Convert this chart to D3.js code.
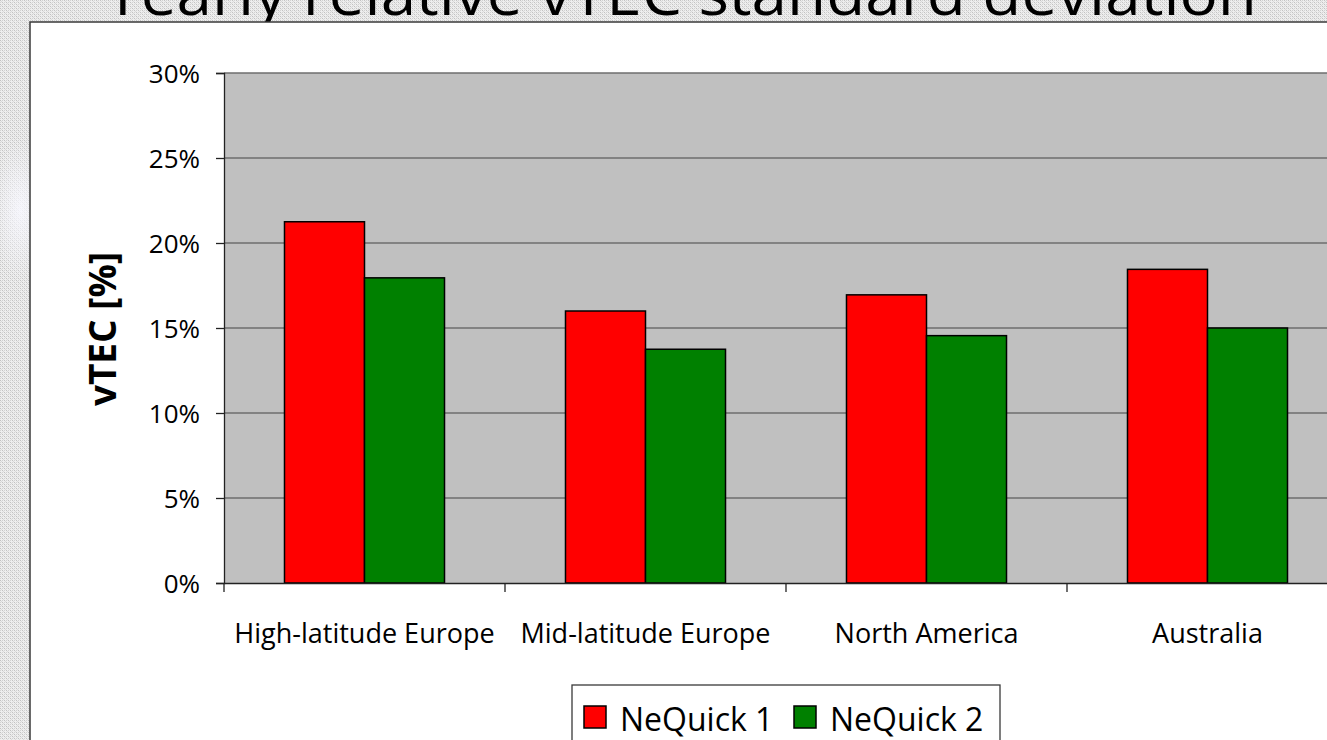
<!DOCTYPE html>
<html>
<head>
<meta charset="utf-8">
<script src="https://cdn.jsdelivr.net/npm/d3@7"></script>
<style>
html,body{margin:0;padding:0;overflow:hidden;background:#fff;}
svg{display:block;}
</style>
</head>
<body>
<svg id="chart" width="1327" height="740"></svg>
<script>
const categories = ["High-latitude Europe", "Mid-latitude Europe", "North America", "Australia"];
const seriesNames = ["NeQuick 1", "NeQuick 2"];
const nequick1 = [21.25, 16.0, 16.95, 18.45];
const nequick2 = [17.95, 13.75, 14.55, 15.0];
const seriesColors = ["#ff0000", "#008000"];
const yTicks = [0, 5, 10, 15, 20, 25, 30];
const titleText = "Yearly relative vTEC standard deviation";
const yTitle = "vTEC [%]";

const svg = d3.select("#chart");
const font = "'Open Sans', 'Noto Sans', sans-serif";

// background dither pattern
const defs = svg.append("defs");
const pat = defs.append("pattern").attr("id", "dither").attr("width", 4).attr("height", 4)
  .attr("patternUnits", "userSpaceOnUse");
pat.append("rect").attr("width", 4).attr("height", 4).attr("fill", "#eeeeee");
pat.append("rect").attr("x", 0).attr("y", 0).attr("width", 1).attr("height", 1).attr("fill", "#c2c2c2");
pat.append("rect").attr("x", 2).attr("y", 2).attr("width", 1).attr("height", 1).attr("fill", "#c2c2c2");
pat.append("rect").attr("x", 2).attr("y", 0).attr("width", 1).attr("height", 1).attr("fill", "#d2d2d2");
pat.append("rect").attr("x", 0).attr("y", 2).attr("width", 1).attr("height", 1).attr("fill", "#d2d2d2");
pat.append("rect").attr("x", 1).attr("y", 1).attr("width", 1).attr("height", 1).attr("fill", "#dadada");
pat.append("rect").attr("x", 3).attr("y", 3).attr("width", 1).attr("height", 1).attr("fill", "#dadada");
const glow = defs.append("radialGradient").attr("id", "glow");
glow.append("stop").attr("offset", "0").attr("stop-color", "#f8f8ff").attr("stop-opacity", 0.85);
glow.append("stop").attr("offset", "1").attr("stop-color", "#f8f8ff").attr("stop-opacity", 0);

svg.append("rect").attr("width", 1327).attr("height", 740).attr("fill", "url(#dither)");
svg.append("ellipse").attr("cx", 20).attr("cy", 210).attr("rx", 28).attr("ry", 70).attr("fill", "url(#glow)");

// title (cut off at top, as in the reference)
svg.append("text").attr("x", 105).attr("y", 15)
  .attr("textLength", 1152).attr("lengthAdjust", "spacingAndGlyphs")
  .style("font-family", font).style("font-size", "60px").attr("fill", "#000")
  .text(titleText);

// white chart panel
svg.append("rect").attr("x", 30).attr("y", 22).attr("width", 1340).attr("height", 760)
  .attr("fill", "#fff").attr("stroke", "#3a3a3a").attr("stroke-width", 1.5);

const plot = {left: 224, top: 73, bottom: 583, step: 281};
const x = d3.scaleBand().domain(categories)
  .range([plot.left, plot.left + plot.step * categories.length]).paddingInner(0).paddingOuter(0);
const xs = d3.scaleBand().domain(seriesNames).range([0, x.bandwidth()]).paddingInner(0).paddingOuter(0.756);
const y = d3.scaleLinear().domain([0, 30]).range([plot.bottom, plot.top]);

// plot area
svg.append("rect").attr("x", plot.left).attr("y", plot.top)
  .attr("width", x.range()[1] - plot.left).attr("height", plot.bottom - plot.top).attr("fill", "#c0c0c0");

// gridlines
svg.append("g").selectAll("line").data(yTicks.filter(d => d > 0)).join("line")
  .attr("x1", plot.left).attr("x2", x.range()[1])
  .attr("y1", d => y(d)).attr("y2", d => y(d))
  .attr("stroke", "#6e6e6e").attr("stroke-width", 1.3);

// bars
const data = categories.map((c, i) => ({cat: c, vals: [nequick1[i], nequick2[i]]}));
const groups = svg.append("g").selectAll("g").data(data).join("g")
  .attr("transform", d => `translate(${x(d.cat)},0)`);
groups.selectAll("rect").data(d => d.vals.map((v, j) => ({s: seriesNames[j], v, j}))).join("rect")
  .attr("x", d => xs(d.s)).attr("width", xs.bandwidth())
  .attr("y", d => y(d.v)).attr("height", d => y(0) - y(d.v))
  .attr("fill", d => seriesColors[d.j]).attr("stroke", "#000").attr("stroke-width", 1.5);

// y axis
const yAxis = svg.append("g").attr("transform", `translate(${plot.left},0)`)
  .call(d3.axisLeft(y).tickValues(yTicks).tickSize(8).tickPadding(16).tickFormat(d => d + "%"));
yAxis.select(".domain").attr("stroke", "#222").attr("stroke-width", 1.3);
yAxis.selectAll(".tick line").attr("stroke", "#222").attr("stroke-width", 1.3);
yAxis.selectAll("text").style("font-family", font).style("font-size", "26px").attr("fill", "#000").attr("dy", "0.35em");

// x axis
const xAxis = svg.append("g").attr("transform", `translate(0,${plot.bottom})`)
  .call(d3.axisBottom(x).tickSize(0).tickPadding(41));
xAxis.select(".domain").attr("stroke", "#222").attr("stroke-width", 1.3);
xAxis.selectAll("text").style("font-family", font).style("font-size", "27px").attr("fill", "#000");
svg.append("g").selectAll("line").data(categories).join("line")
  .attr("x1", d => x(d)).attr("x2", d => x(d))
  .attr("y1", plot.bottom).attr("y2", plot.bottom + 9)
  .attr("stroke", "#222").attr("stroke-width", 1.3);

// y title
svg.append("text").attr("transform", "translate(116,329) rotate(-90)")
  .attr("text-anchor", "middle")
  .style("font-family", font).style("font-size", "37px").style("font-weight", "bold")
  .text(yTitle);

// legend
const lg = svg.append("g");
lg.append("rect").attr("x", 572).attr("y", 685).attr("width", 428).attr("height", 80)
  .attr("fill", "#fff").attr("stroke", "#3a3a3a").attr("stroke-width", 1.3);
const legX = [584, 794];
seriesNames.forEach((s, i) => {
  lg.append("rect").attr("x", legX[i]).attr("y", 706).attr("width", 22).attr("height", 22)
    .attr("fill", seriesColors[i]).attr("stroke", "#000").attr("stroke-width", 1.5);
  lg.append("text").attr("x", legX[i] + 36).attr("y", 731)
    .style("font-family", font).style("font-size", "32px").text(s);
});
</script>
</body>
</html>
